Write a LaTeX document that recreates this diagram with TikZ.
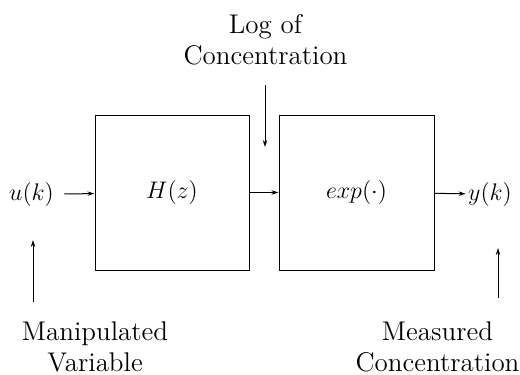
\documentclass[tikz,border=0pt]{standalone}
\usepackage{amsmath}
\usepackage{tikz}
\usetikzlibrary{arrows.meta,positioning}

\begin{document}
\begin{tikzpicture}[x=0.5pt,y=-0.5pt,>={Stealth[length=3.5pt,width=2.2pt]},line width=0.5pt,
  blk/.style={draw,minimum width=77pt,minimum height=77.5pt,font=\fontsize{12}{14}\selectfont},
  sig/.style={font=\fontsize{12}{14}\selectfont,inner sep=1pt},
  lbl/.style={font=\fontsize{13.5}{15.5}\selectfont,align=center,inner sep=1pt}]
  \useasboundingbox (0,0) rectangle (520,375);
  \node[blk] (hz) at (172,192.5) {$H(z)$};
  \node[blk,minimum width=77.5pt] (ex) at (356.5,192.5) {$exp(\cdot)$};

  \node[sig] (uk) at (31.5,194) {$u(k)$};
  \node[sig] (yk) at (490,194) {$y(k)$};

  \node[lbl] (log) at (265.5,40) {Log of\\Concentration};
  \node[lbl] (man) at (95,347) {Manipulated\\Variable};
  \node[lbl] (meas) at (437.5,347) {Measured\\Concentration};

  % free ends of the side arrows
  \coordinate (logtop) at (265,85);
  \coordinate (logend) at (265,147);
  \coordinate (mantop) at (33,240);
  \coordinate (manbot) at (33,302);
  \coordinate (meastop) at (498,248);
  \coordinate (measbot) at (498,298);

  \draw[->] ([xshift=4pt]uk.east) -- (hz);
  \draw[->] (hz) -- (ex);
  \draw[->] (ex) -- (yk);
  \draw[->] (logtop) -- (logend);
  \draw[->] (manbot) -- (mantop);
  \draw[->] (measbot) -- (meastop);
\end{tikzpicture}
\end{document}
